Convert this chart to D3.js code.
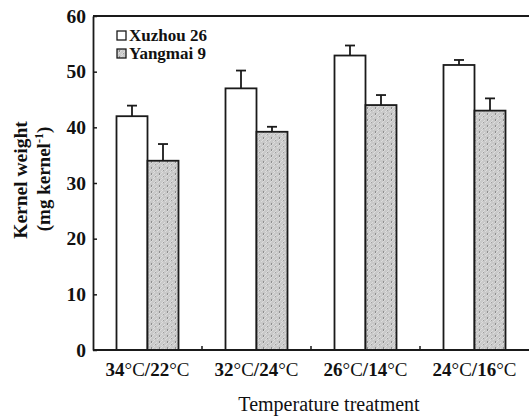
<!DOCTYPE html>
<html>
<head>
<meta charset="utf-8">
<script src="https://cdn.jsdelivr.net/npm/d3@7"></script>
<style>
	body { margin: 0; background: #fff; }
	svg text { font-family: "Liberation Serif", "Times New Roman", serif; }
</style>
</head>
<body>
<svg id="chart" width="529" height="419"></svg>
<script>
// values
var treatments = ["34\u00b0C/22\u00b0C", "32\u00b0C/24\u00b0C", "26\u00b0C/14\u00b0C", "24\u00b0C/16\u00b0C"];
var seriesNames = ["Xuzhou 26", "Yangmai 9"];
var xuzhou = [42.0, 47.0, 52.9, 51.2];
var xuzhouErr = [1.9, 3.2, 1.8, 0.9];
var yangmai = [34.0, 39.2, 44.0, 43.0];
var yangmaiErr = [3.0, 0.9, 1.8, 2.2];
var yTicks = [0, 10, 20, 30, 40, 50, 60];

var svg = d3.select('#chart'),
	margin = {left: 93, right: 0, top: 16, bottom: 69},
	width = 529 - margin.left - margin.right,
	height = 419 - margin.top - margin.bottom,
	ink = '#1a1a1a';

// grey dotted fill for the second cultivar
var defs = svg.append('defs');
var pat = defs.append('pattern')
	.attr('id', 'grey')
	.attr('patternUnits', 'userSpaceOnUse')
	.attr('width', 8)
	.attr('height', 6);
pat.append('rect').attr('width', 8).attr('height', 6).attr('fill', '#c9c9c9');
pat.append('path').attr('d', 'M0,6 L6,0 M4,6 L8,2').attr('stroke', '#dcdcdc').attr('stroke-width', 1);
pat.append('rect').attr('x', 2).attr('y', 1).attr('width', 1).attr('height', 2).attr('fill', '#8e8e8e');
pat.append('rect').attr('x', 6).attr('y', 4).attr('width', 1).attr('height', 1).attr('fill', '#9e9e9e');

var g = svg.append('g').attr('transform', 'translate(' + margin.left + ',' + margin.top + ')');

var x = d3.scaleBand().domain(treatments).range([0, width]);
var y = d3.scaleLinear().domain([0, 60]).range([height, 0]);
var barW = 31;

var series = [
	{name: seriesNames[0], values: xuzhou, errs: xuzhouErr, fill: '#fff', offset: -barW},
	{name: seriesNames[1], values: yangmai, errs: yangmaiErr, fill: 'url(#grey)', offset: 0}
];

// error bars first so the bar outline sits on top
series.forEach(function(s) {
	var eg = g.append('g');
	s.values.forEach(function(v, i) {
		var cx = x(treatments[i]) + x.bandwidth() / 2 + s.offset + barW / 2;
		eg.append('line')
			.attr('x1', cx).attr('x2', cx)
			.attr('y1', y(v)).attr('y2', y(v + s.errs[i]))
			.attr('stroke', ink).attr('stroke-width', 1.8);
		eg.append('line')
			.attr('x1', cx - 5).attr('x2', cx + 5)
			.attr('y1', y(v + s.errs[i])).attr('y2', y(v + s.errs[i]))
			.attr('stroke', ink).attr('stroke-width', 1.8);
	});
});

series.forEach(function(s) {
	g.append('g').selectAll('rect')
		.data(s.values)
		.enter().append('rect')
		.attr('x', function(d, i) { return x(treatments[i]) + x.bandwidth() / 2 + s.offset; })
		.attr('y', function(d) { return y(d); })
		.attr('width', barW)
		.attr('height', function(d) { return height - y(d); })
		.attr('fill', s.fill)
		.attr('stroke', ink)
		.attr('stroke-width', 1.8);
});

// y axis with inward ticks
var yAxis = g.append('g')
	.call(d3.axisLeft(y).tickValues(yTicks).tickSizeInner(-4).tickSizeOuter(0).tickPadding(7));
yAxis.select('.domain').attr('stroke', ink).attr('stroke-width', 1.8);
yAxis.selectAll('.tick line').attr('stroke', ink).attr('stroke-width', 1.5);
yAxis.selectAll('text')
	.attr('font-family', '"Liberation Serif", serif')
	.attr('font-size', 19.5)
	.attr('font-weight', 'bold')
	.attr('fill', '#111');

// top frame line
g.append('line')
	.attr('x1', 0).attr('x2', width)
	.attr('y1', 0).attr('y2', 0)
	.attr('stroke', ink).attr('stroke-width', 1.8);

// x axis: ticks between the groups
g.append('line')
	.attr('x1', 0).attr('x2', width)
	.attr('y1', height).attr('y2', height)
	.attr('stroke', ink).attr('stroke-width', 1.8);
g.append('g').selectAll('line')
	.data(treatments.slice(1))
	.enter().append('line')
	.attr('x1', function(d) { return x(d); })
	.attr('x2', function(d) { return x(d); })
	.attr('y1', height).attr('y2', height - 4)
	.attr('stroke', ink).attr('stroke-width', 1.5);

// category labels: bold digits, regular degree signs
var xl = g.append('g').selectAll('text')
	.data(treatments)
	.enter().append('text')
	.attr('x', function(d) { return x(d) + x.bandwidth() / 2; })
	.attr('y', height + 26)
	.attr('text-anchor', 'middle')
	.attr('font-size', 19)
	.attr('fill', '#111');
xl.each(function(d) {
	var t = d3.select(this);
	d.split(/(\u00b0C)/).forEach(function(part) {
		if (!part) return;
		t.append('tspan')
			.attr('font-weight', part === '\u00b0C' ? 'normal' : 'bold')
			.text(part);
	});
});

svg.append('text')
	.attr('x', 329)
	.attr('y', 411)
	.attr('text-anchor', 'middle')
	.attr('font-size', 20)
	.attr('fill', '#111')
	.text('Temperature treatment');

// y title, two lines
svg.append('text')
	.attr('transform', 'translate(27,180) rotate(-90)')
	.attr('text-anchor', 'middle')
	.attr('font-size', 19.5)
	.attr('font-weight', 'bold')
	.attr('fill', '#111')
	.text('Kernel weight');
var sub = svg.append('text')
	.attr('transform', 'translate(50,179) rotate(-90)')
	.attr('text-anchor', 'middle')
	.attr('font-size', 19)
	.attr('font-weight', 'bold')
	.attr('fill', '#111');
sub.append('tspan').text('(mg kernel');
sub.append('tspan').attr('font-size', 12).attr('dy', -7).text('-1');
sub.append('tspan').attr('dy', 7).text(')');

// legend
var legend = g.append('g').attr('transform', 'translate(24,15)');
series.forEach(function(s, i) {
	var row = legend.append('g').attr('transform', 'translate(0,' + i * 18 + ')');
	row.append('rect')
		.attr('x', 0).attr('y', 0)
		.attr('width', 9).attr('height', 9)
		.attr('fill', s.fill)
		.attr('stroke', ink).attr('stroke-width', 1.3);
	row.append('text')
		.attr('x', 12).attr('y', 10)
		.attr('font-size', 17)
		.attr('font-weight', 'bold')
		.attr('fill', '#111')
		.text(s.name);
});
</script>
</body>
</html>
